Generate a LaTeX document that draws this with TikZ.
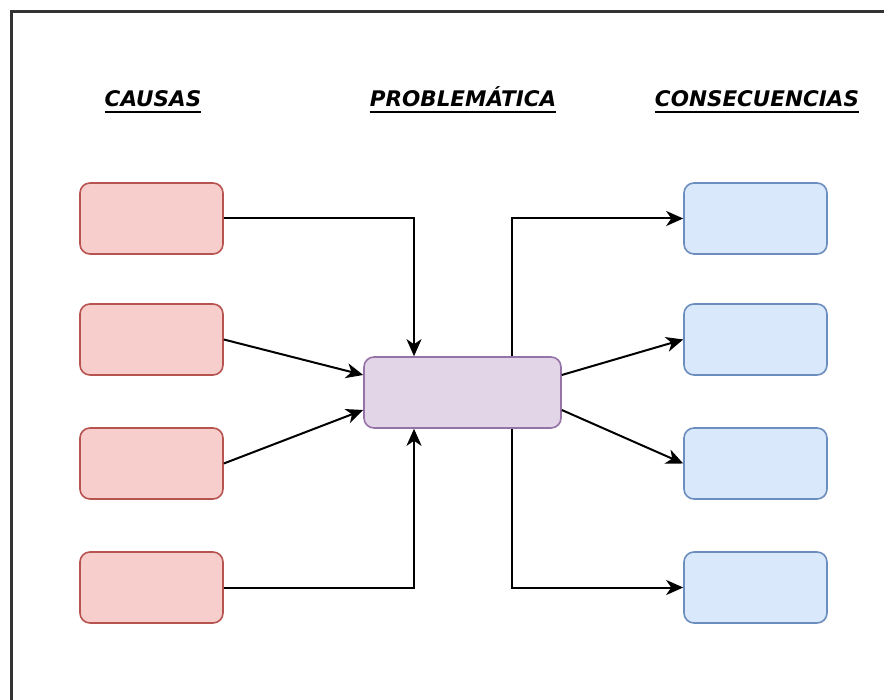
\documentclass[tikz,border=0pt]{standalone}
\usepackage{fontspec}
\setmainfont{DejaVu Sans}
\usetikzlibrary{arrows.meta}
\definecolor{causefill}{HTML}{F8CECC}
\definecolor{causeline}{HTML}{B85450}
\definecolor{effectfill}{HTML}{DAE8FC}
\definecolor{effectline}{HTML}{6C8EBF}
\definecolor{corefill}{HTML}{E1D5E7}
\definecolor{coreline}{HTML}{9673A6}
\begin{document}
\begin{tikzpicture}[x=1pt,y=-1pt,
  box/.style={draw, line width=1.6pt, rounded corners=10pt, minimum width=143pt, minimum height=71pt, inner sep=0pt},
  cause/.style={box, fill=causefill, draw=causeline},
  effect/.style={box, fill=effectfill, draw=effectline},
  core/.style={box, fill=corefill, draw=coreline, minimum width=197pt},
  link/.style={line width=2pt, -{Stealth[length=17pt,width=15pt,inset=5pt]}},
  heading/.style={font=\fontsize{21.5}{24}\selectfont\bfseries\itshape, inner sep=0pt, anchor=base},
  rule/.style={line width=2pt}]
\useasboundingbox (0,0) rectangle (884,700);
\fill[white] (0,0) rectangle (884,700);
\begin{scope}
  \clip (0,0) rectangle (884,700);
  \draw[line width=3pt, black!80] (11.5,11.5) rectangle (910,730);
\end{scope}

% column headings, underlined
\node[heading] (hcause) at (153,107) {CAUSAS};
\node[heading] (hcore) at (463,107) {PROBLEMÁTICA};
\node[heading] (heffect) at (757,107) {CONSECUENCIAS};
\foreach \h in {hcause,hcore,heffect}
  \draw[rule] ([yshift=-5pt]\h.base west) -- ([yshift=-5pt]\h.base east);

% boxes
\node[cause] (c1) at (151.5,218.5) {};
\node[cause] (c2) at (151.5,339.5) {};
\node[cause] (c3) at (151.5,463.5) {};
\node[cause] (c4) at (151.5,587.5) {};
\node[core] (p) at (462.5,392.5) {};
\node[effect] (e1) at (755.5,218.5) {};
\node[effect] (e2) at (755.5,339.5) {};
\node[effect] (e3) at (755.5,463.5) {};
\node[effect] (e4) at (755.5,587.5) {};

% causes into the problem
\draw[link] (c1.east) -| ([xshift=-48.5pt]p.north);
\draw[link] (c2.east) -- ([yshift=17.5pt]p.west);
\draw[link] (c3.east) -- ([yshift=-17.5pt]p.west);
\draw[link] (c4.east) -| ([xshift=-48.5pt]p.south);

% problem out to consequences
\draw[link] ([xshift=49.5pt]p.north) |- (e1.west);
\draw[link] ([yshift=17.5pt]p.east) -- (e2.west);
\draw[link] ([yshift=-17.5pt]p.east) -- (e3.west);
\draw[link] ([xshift=49.5pt]p.south) |- (e4.west);
\end{tikzpicture}
\end{document}
